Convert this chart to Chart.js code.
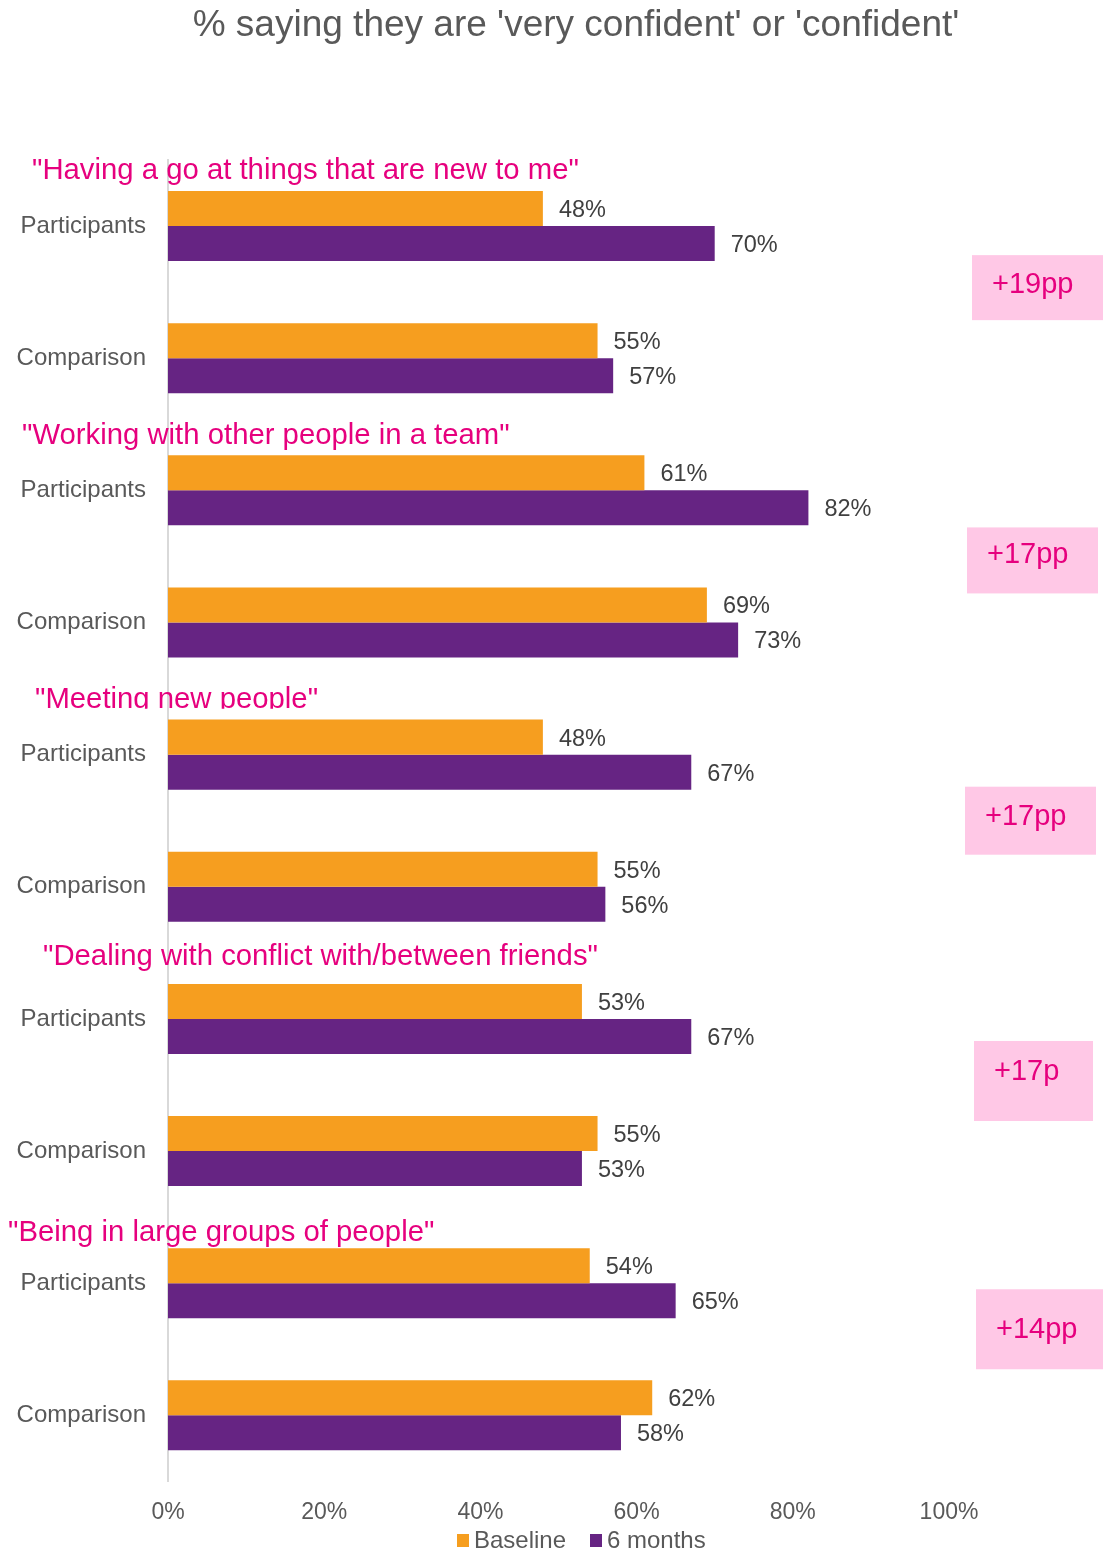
<!DOCTYPE html>
<html>
<head>
<meta charset="utf-8">
<title>Confidence</title>
<script src="https://cdn.jsdelivr.net/npm/chart.js@4.4.1/dist/chart.umd.min.js"></script>
<style>
  html, body { margin: 0; padding: 0; background: #fff; }
  #wrap { width: 1103px; height: 1553px; position: relative; }
</style>
</head>
<body>
<div id="wrap"><canvas id="chartConfianza"></canvas></div>
<script>
const FONT = '"Liberation Sans", Arial, Helvetica, sans-serif';

const categories = ['Participants', 'Comparison', 'Participants', 'Comparison', 'Participants',
  'Comparison', 'Participants', 'Comparison', 'Participants', 'Comparison'];
const baseline = [48, 55, 61, 69, 48, 55, 53, 55, 54, 62];
const sixMonths = [70, 57, 82, 73, 67, 56, 67, 53, 65, 58];
const xTicks = [0, 20, 40, 60, 80, 100];

const statements = [
  '"Having a go at things that are new to me"',
  '"Working with other people in a team"',
  '"Meeting new people"',
  '"Dealing with conflict with/between friends"',
  '"Being in large groups of people"'
];
const changes = ['+19pp', '+17pp', '+17pp', '+17p', '+14pp'];

// colores
const ORANGE = '#F69E1F';
const PURPLE = '#662483';
const PINK = '#E6007E';
const PINK_BG = '#FFC8E6';
const GREY_TXT = '#595959';

// ubicacion de los textos rosados (relativa a la fila "Participants")
const quoteLayout = [
  { x: 32, dy: -55 },
  { x: 22, dy: -54 },
  { x: 35, dy: -55, clip: 9 },
  { x: 43, dy: -62 },
  { x: 8, dy: -50 }
];
// cajas de cambio (relativas al punto medio entre las dos filas)
const boxLayout = [
  { x: 972, dy: -37, w: 131, h: 65, ty: 30 },
  { x: 967, dy: -29, w: 131, h: 66, ty: 28 },
  { x: 965, dy: -34, w: 131, h: 68, ty: 30 },
  { x: 974, dy: -44, w: 119, h: 80, ty: 31 },
  { x: 976, dy: -60, w: 127, h: 80, ty: 41 }
];

const extrasPlugin = {
  id: 'extras',
  afterDatasetsDraw(chart) {
    const ctx = chart.ctx;
    const y = chart.scales.y;
    ctx.save();

    // etiquetas de valor
    ctx.font = '23.5px ' + FONT;
    ctx.fillStyle = '#404040';
    ctx.textAlign = 'left';
    ctx.textBaseline = 'middle';
    chart.data.datasets.forEach((ds, di) => {
      chart.getDatasetMeta(di).data.forEach((bar, i) => {
        ctx.fillText(ds.data[i] + '%', bar.x + 16, bar.y + 2);
      });
    });

    // enunciados
    ctx.font = '29.3px ' + FONT;
    ctx.fillStyle = PINK;
    statements.forEach((txt, g) => {
      const l = quoteLayout[g];
      const cy = y.getPixelForValue(g * 2) + l.dy;
      ctx.save();
      if (l.clip) {
        ctx.beginPath();
        ctx.rect(0, cy - 30, chart.width, 30 + l.clip);
        ctx.clip();
      }
      ctx.fillText(txt, l.x, cy);
      ctx.restore();
    });

    // cajas de diferencia
    changes.forEach((txt, g) => {
      const b = boxLayout[g];
      const mid = (y.getPixelForValue(g * 2) + y.getPixelForValue(g * 2 + 1)) / 2;
      const top = mid + b.dy;
      ctx.fillStyle = PINK_BG;
      ctx.fillRect(b.x, top, b.w, b.h);
      ctx.fillStyle = PINK;
      ctx.font = '29px ' + FONT;
      ctx.fillText(txt, b.x + 20, top + b.ty);
    });

    // titulo
    ctx.font = '37px ' + FONT;
    ctx.fillStyle = GREY_TXT;
    ctx.textAlign = 'center';
    ctx.fillText("% saying they are 'very confident' or 'confident'", 576, 26);

    // leyenda
    ctx.textAlign = 'left';
    ctx.font = '24px ' + FONT;
    const legend = [['Baseline', ORANGE, 457], ['6 months', PURPLE, 590]];
    legend.forEach(([name, col, lx]) => {
      ctx.fillStyle = col;
      ctx.fillRect(lx, 1534, 12, 13);
      ctx.fillStyle = GREY_TXT;
      ctx.fillText(name, lx + 17, 1541);
    });
    ctx.restore();
  }
};

new Chart(document.getElementById('chartConfianza'), {
  type: 'bar',
  data: {
    labels: categories,
    datasets: [
      { label: 'Baseline', data: baseline, backgroundColor: ORANGE },
      { label: '6 months', data: sixMonths, backgroundColor: PURPLE }
    ]
  },
  options: {
    indexAxis: 'y',
    responsive: true,
    maintainAspectRatio: false,
    animation: false,
    devicePixelRatio: 1,
    datasets: { bar: { barPercentage: 1, categoryPercentage: 0.53 } },
    layout: { padding: { top: 160, right: 154, bottom: 10, left: 0 } },
    scales: {
      x: {
        min: 0,
        max: 100,
        afterBuildTicks: (s) => { s.ticks = xTicks.map(v => ({ value: v })); },
        grid: { display: false, drawTicks: false },
        border: { display: false },
        ticks: {
          color: GREY_TXT,
          padding: 17,
          font: { family: FONT, size: 23 },
          callback: (v) => v + '%'
        }
      },
      y: {
        afterFit: (s) => { s.width = 168; },
        grid: { display: false, drawTicks: false },
        border: { display: true, color: '#D9D9D9', width: 2 },
        ticks: {
          color: GREY_TXT,
          padding: 22,
          font: { family: FONT, size: 24 }
        }
      }
    },
    plugins: {
      legend: { display: false },
      tooltip: { enabled: false }
    }
  },
  plugins: [extrasPlugin]
});
</script>
</body>
</html>
